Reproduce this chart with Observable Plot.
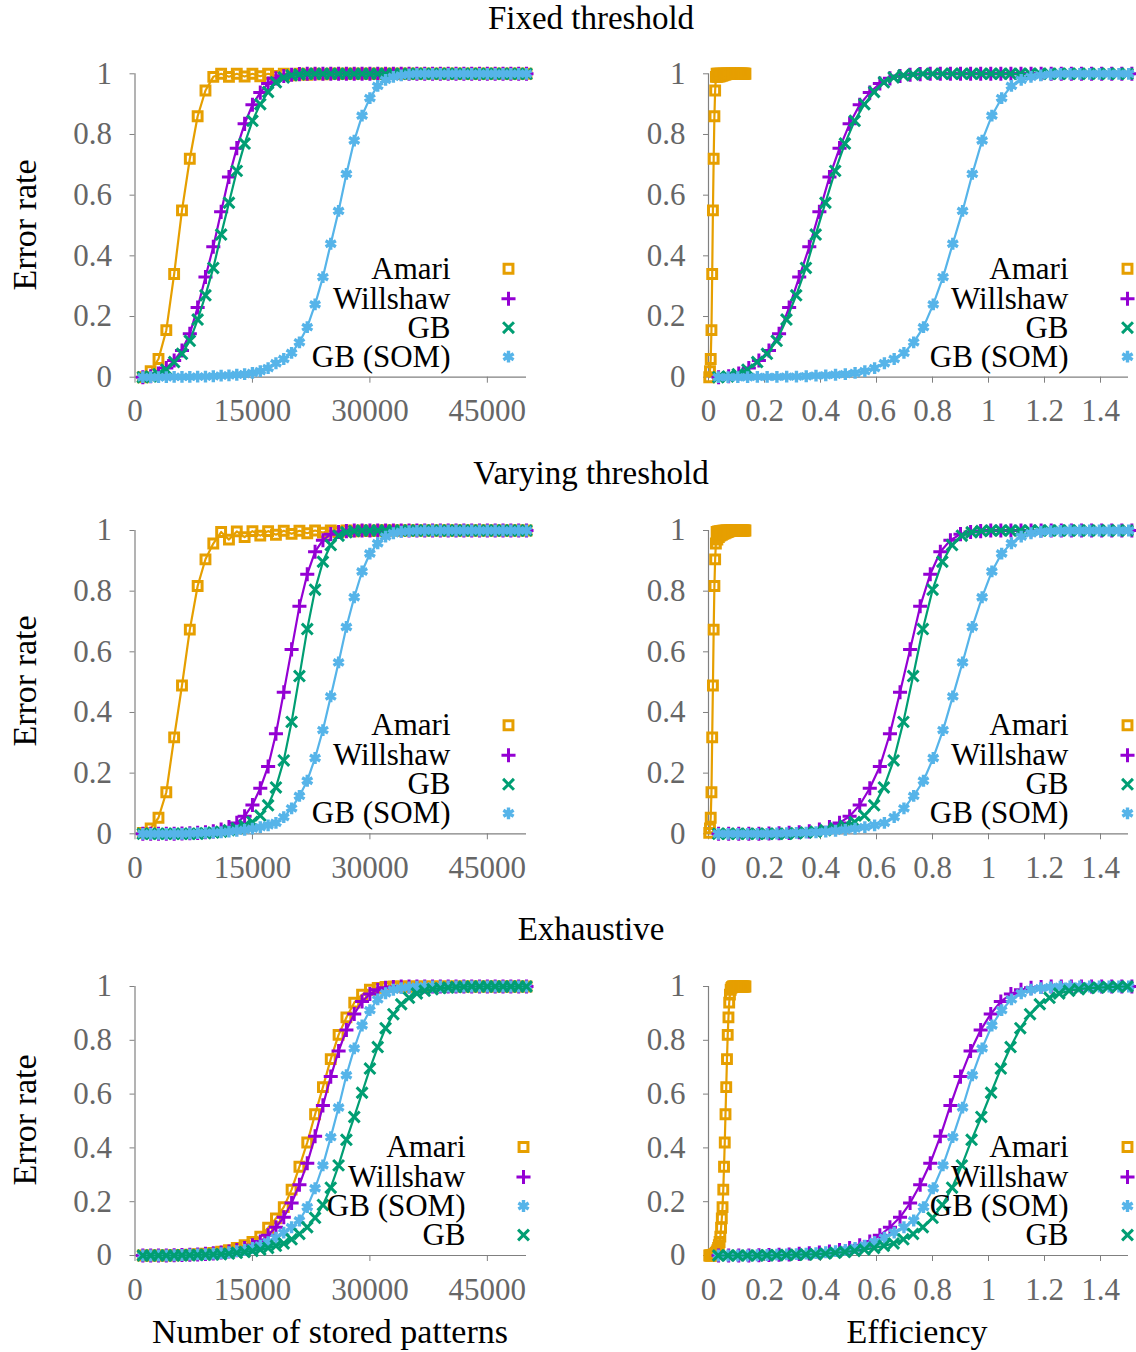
<!DOCTYPE html>
<html>
<head>
<meta charset="utf-8">
<script src="https://cdn.jsdelivr.net/npm/d3@7"></script>
<script src="https://cdn.jsdelivr.net/npm/@observablehq/plot@0.6"></script>
<style>
  html, body { margin: 0; padding: 0; background: #ffffff; }
  #page { position: relative; width: 1136px; height: 1352px; font-family: "Liberation Serif", "DejaVu Serif", serif; color: #000; overflow: hidden; }
  .lbl { position: absolute; white-space: nowrap; line-height: 1; font-size: 34px; }
  .panel { position: absolute; }
</style>
</head>
<body>
<div id="page"></div>
<script>
// ---------------- data ----------------
const nPatterns = [
  1000, 2000, 3000, 4000, 5000, 6000, 7000, 8000, 9000, 10000,
  11000, 12000, 13000, 14000, 15000, 16000, 17000, 18000, 19000, 20000,
  21000, 22000, 23000, 24000, 25000, 26000, 27000, 28000, 29000, 30000,
  31000, 32000, 33000, 34000, 35000, 36000, 37000, 38000, 39000, 40000,
  41000, 42000, 43000, 44000, 45000, 46000, 47000, 48000, 49000, 50000
];

const seriesNames = ["Amari", "Willshaw", "GB", "GB (SOM)"];
const seriesColors = ["#e69f00", "#9400d3", "#009e73", "#56b4e9"];
const seriesSymbols = ["square", "plus", "times", "asterisk"];
// efficiency contributed per stored pattern
const efficiencyPerPattern = [2.64e-6, 3.6e-5, 3.48e-5, 3.49e-5];

const rowTitles = ["Fixed threshold", "Varying threshold", "Exhaustive"];
const xTicksPatterns = [0, 15000, 30000, 45000];
const xTicksEfficiency = [0, 0.2, 0.4, 0.6, 0.8, 1, 1.2, 1.4];
const yTicks = [0, 0.2, 0.4, 0.6, 0.8, 1];
const seriesOrderByRow = [[0, 1, 2, 3], [0, 1, 2, 3], [0, 1, 3, 2]];

// Fixed threshold
const fixedAmari = [
  0.000, 0.020, 0.060, 0.155, 0.340, 0.550, 0.720, 0.860, 0.945, 0.990,
  1.000, 0.990, 1.000, 0.991, 1.000, 0.992, 1.000, 0.993, 1.000, 0.995,
  1.000, 0.997, 1.000, 0.998, 1.000, 1.000, 1.000, 1.000, 1.000, 1.000,
  1.000, 1.000, 1.000, 1.000, 1.000, 1.000, 1.000, 1.000, 1.000, 1.000,
  1.000, 1.000, 1.000, 1.000, 1.000, 1.000, 1.000, 1.000, 1.000, 1.000
];
const fixedWillshaw = [
  0.000, 0.003, 0.012, 0.030, 0.055, 0.088, 0.143, 0.230, 0.330, 0.430,
  0.545, 0.660, 0.755, 0.835, 0.898, 0.938, 0.968, 0.985, 0.993, 0.997,
  0.999, 1.000, 1.000, 1.000, 1.000, 1.000, 1.000, 1.000, 1.000, 1.000,
  1.000, 1.000, 1.000, 1.000, 1.000, 1.000, 1.000, 1.000, 1.000, 1.000,
  1.000, 1.000, 1.000, 1.000, 1.000, 1.000, 1.000, 1.000, 1.000, 1.000
];
const fixedGB = [
  0.000, 0.002, 0.010, 0.025, 0.050, 0.077, 0.120, 0.190, 0.270, 0.360,
  0.470, 0.575, 0.680, 0.770, 0.845, 0.900, 0.940, 0.972, 0.988, 0.995,
  0.998, 1.000, 1.000, 1.000, 1.000, 1.000, 1.000, 1.000, 1.000, 1.000,
  1.000, 1.000, 1.000, 1.000, 1.000, 1.000, 1.000, 1.000, 1.000, 1.000,
  1.000, 1.000, 1.000, 1.000, 1.000, 1.000, 1.000, 1.000, 1.000, 1.000
];
const fixedSOM = [
  0.000, 0.000, 0.000, 0.000, 0.001, 0.001, 0.001, 0.002, 0.002, 0.003,
  0.005, 0.006, 0.008, 0.010, 0.014, 0.020, 0.030, 0.046, 0.060, 0.080,
  0.115, 0.165, 0.240, 0.330, 0.440, 0.548, 0.670, 0.780, 0.862, 0.920,
  0.960, 0.980, 0.990, 0.995, 0.998, 1.000, 1.000, 1.000, 1.000, 1.000,
  1.000, 1.000, 1.000, 1.000, 1.000, 1.000, 1.000, 1.000, 1.000, 1.000
];

// Varying threshold
const varyAmari = [
  0.003, 0.018, 0.053, 0.137, 0.318, 0.489, 0.673, 0.817, 0.905, 0.957,
  0.995, 0.970, 0.997, 0.978, 0.998, 0.983, 0.998, 0.986, 0.999, 0.989,
  0.999, 0.991, 1.000, 0.993, 1.000, 0.995, 1.000, 0.997, 1.000, 0.998,
  1.000, 1.000, 1.000, 1.000, 1.000, 1.000, 1.000, 1.000, 1.000, 1.000,
  1.000, 1.000, 1.000, 1.000, 1.000, 1.000, 1.000, 1.000, 1.000, 1.000
];
const varyWillshaw = [
  0.000, 0.000, 0.000, 0.000, 0.000, 0.001, 0.002, 0.003, 0.005, 0.008,
  0.014, 0.022, 0.036, 0.058, 0.095, 0.150, 0.222, 0.330, 0.467, 0.608,
  0.750, 0.856, 0.930, 0.968, 0.988, 0.995, 0.998, 1.000, 1.000, 1.000,
  1.000, 1.000, 1.000, 1.000, 1.000, 1.000, 1.000, 1.000, 1.000, 1.000,
  1.000, 1.000, 1.000, 1.000, 1.000, 1.000, 1.000, 1.000, 1.000, 1.000
];
const varyGB = [
  0.000, 0.000, 0.000, 0.000, 0.000, 0.000, 0.000, 0.000, 0.002, 0.004,
  0.007, 0.012, 0.018, 0.027, 0.039, 0.060, 0.094, 0.153, 0.242, 0.369,
  0.520, 0.675, 0.805, 0.897, 0.952, 0.983, 0.994, 0.998, 1.000, 1.000,
  1.000, 1.000, 1.000, 1.000, 1.000, 1.000, 1.000, 1.000, 1.000, 1.000,
  1.000, 1.000, 1.000, 1.000, 1.000, 1.000, 1.000, 1.000, 1.000, 1.000
];
const varySOM = [
  0.000, 0.000, 0.000, 0.000, 0.000, 0.000, 0.001, 0.002, 0.003, 0.004,
  0.005, 0.007, 0.010, 0.013, 0.017, 0.022, 0.028, 0.036, 0.055, 0.084,
  0.125, 0.175, 0.250, 0.342, 0.453, 0.565, 0.682, 0.780, 0.865, 0.924,
  0.958, 0.980, 0.991, 0.996, 0.998, 0.999, 1.000, 1.000, 1.000, 1.000,
  1.000, 1.000, 1.000, 1.000, 1.000, 1.000, 1.000, 1.000, 1.000, 1.000
];

// Exhaustive
const exhAmari = [
  0.000, 0.000, 0.000, 0.000, 0.001, 0.002, 0.003, 0.005, 0.007, 0.010,
  0.014, 0.020, 0.028, 0.038, 0.050, 0.070, 0.103, 0.138, 0.180, 0.245,
  0.330, 0.420, 0.525, 0.626, 0.730, 0.820, 0.885, 0.940, 0.970, 0.988,
  0.995, 0.998, 1.000, 1.000, 1.000, 1.000, 1.000, 1.000, 1.000, 1.000,
  1.000, 1.000, 1.000, 1.000, 1.000, 1.000, 1.000, 1.000, 1.000, 1.000
];
const exhWillshaw = [
  0.000, 0.000, 0.000, 0.000, 0.001, 0.002, 0.003, 0.004, 0.006, 0.008,
  0.011, 0.015, 0.020, 0.028, 0.038, 0.052, 0.075, 0.105, 0.142, 0.195,
  0.263, 0.343, 0.443, 0.558, 0.665, 0.760, 0.838, 0.898, 0.944, 0.972,
  0.988, 0.995, 0.998, 1.000, 1.000, 1.000, 1.000, 1.000, 1.000, 1.000,
  1.000, 1.000, 1.000, 1.000, 1.000, 1.000, 1.000, 1.000, 1.000, 1.000
];
const exhGB = [
  0.000, 0.000, 0.000, 0.000, 0.000, 0.001, 0.001, 0.002, 0.003, 0.004,
  0.005, 0.007, 0.010, 0.013, 0.017, 0.022, 0.028, 0.036, 0.045, 0.060,
  0.080, 0.105, 0.140, 0.188, 0.252, 0.335, 0.430, 0.515, 0.605, 0.695,
  0.775, 0.845, 0.897, 0.934, 0.958, 0.974, 0.984, 0.990, 0.994, 0.996,
  0.998, 0.999, 1.000, 1.000, 1.000, 1.000, 1.000, 1.000, 1.000, 1.000
];
const exhSOM = [
  0.000, 0.000, 0.000, 0.000, 0.001, 0.002, 0.003, 0.004, 0.005, 0.007,
  0.009, 0.012, 0.016, 0.021, 0.028, 0.037, 0.050, 0.066, 0.085, 0.105,
  0.130, 0.180, 0.250, 0.335, 0.440, 0.550, 0.670, 0.770, 0.855, 0.912,
  0.952, 0.975, 0.988, 0.994, 0.997, 0.999, 1.000, 1.000, 1.000, 1.000,
  1.000, 1.000, 1.000, 1.000, 1.000, 1.000, 1.000, 1.000, 1.000, 1.000
];

const errorRows = [
  [fixedAmari, fixedWillshaw, fixedGB, fixedSOM],
  [varyAmari, varyWillshaw, varyGB, varySOM],
  [exhAmari, exhWillshaw, exhGB, exhSOM]
];

// ---------------- layout / style ----------------
const page = document.getElementById("page");
const rowTop = [40, 497, 953];
const rowHeight = [380, 380, 345];
const rowMarginTop = [33.3, 33, 33];
const rowMarginBottom = [43.3, 43.7, 43];
const titleCenterY = [17.5, 473, 929];
const ylabelCenterY = [225, 681, 1120];

const markStyle = [
  {r: 5.0, strokeWidth: 3.0},
  {r: 4.6, strokeWidth: 3.0},
  {r: 5.0, strokeWidth: 3.0},
  {r: 5.6, strokeWidth: 3.4}
];
const legendDy = [-108.5, -78.5, -49.5, -20.5];

function fmtNum(d) { return String(Math.round(d * 10) / 10); }

function addLabel(text, cx, cy, rotate, size) {
  const el = document.createElement("div");
  el.className = "lbl";
  el.textContent = text;
  el.style.left = cx + "px";
  el.style.top = cy + "px";
  if (size) el.style.fontSize = size + "px";
  el.style.transform = "translate(-50%, -50%)" + (rotate ? " rotate(-90deg)" : "");
  page.appendChild(el);
}

function makePanel(row, useEfficiency) {
  const order = seriesOrderByRow[row];
  const marks = [];
  marks.push(Plot.ruleY([0], {stroke: "#808080", strokeWidth: 1.2}));
  marks.push(Plot.ruleX([0], {stroke: "#808080", strokeWidth: 1.2}));
  marks.push(Plot.axisY({
    ticks: yTicks, tickFormat: fmtNum, tickSize: 5, tickPadding: 18,
    fontSize: 31, label: null, stroke: "#808080", fill: "#666"
  }));
  marks.push(Plot.axisX({
    ticks: useEfficiency ? xTicksEfficiency : xTicksPatterns,
    tickFormat: useEfficiency ? fmtNum : d3.format("d"),
    tickSize: 6, tickPadding: 16, fontSize: 31, label: null, stroke: "#808080", fill: "#666"
  }));

  order.forEach((s) => {
    const pts = nPatterns.map((n, i) => ({
      x: useEfficiency ? n * efficiencyPerPattern[s] : n,
      y: errorRows[row][s][i]
    })).filter(d => !useEfficiency || d.x <= 1.52);
    marks.push(Plot.line(pts, {x: "x", y: "y", stroke: seriesColors[s], strokeWidth: 2.2}));
    marks.push(Plot.dot(pts, {
      x: "x", y: "y", symbol: seriesSymbols[s], stroke: seriesColors[s], fill: "none",
      r: markStyle[s].r, strokeWidth: markStyle[s].strokeWidth
    }));
  });

  // legend inside the frame, bottom-right
  const textDx = useEfficiency ? -60 : (row === 2 ? -61 : -76);
  const symDx = useEfficiency ? -1 : (row === 2 ? -3 : -18);
  order.forEach((s, k) => {
    marks.push(Plot.text([seriesNames[s]], {
      frameAnchor: "bottom-right", text: d => d, dx: textDx, dy: legendDy[k],
      textAnchor: "end", lineAnchor: "middle", fontSize: 31, fill: "#000"
    }));
    marks.push(Plot.dot([0], {
      frameAnchor: "bottom-right", dx: symDx, dy: legendDy[k],
      symbol: seriesSymbols[s], stroke: seriesColors[s], fill: "none",
      r: markStyle[s].r, strokeWidth: markStyle[s].strokeWidth
    }));
  });

  const svg = Plot.plot({
    width: 568,
    height: rowHeight[row],
    marginLeft: useEfficiency ? 140 : 134.5,
    marginRight: useEfficiency ? 8 : 42,
    marginTop: rowMarginTop[row],
    marginBottom: rowMarginBottom[row],
    x: {domain: useEfficiency ? [0, 1.5] : [0, 50000]},
    y: {domain: [0, 1]},
    style: {fontFamily: '"Liberation Serif", "DejaVu Serif", serif', fontSize: "31px", color: "#666", background: "transparent", overflow: "visible"},
    marks
  });
  const wrap = document.createElement("div");
  wrap.className = "panel";
  wrap.style.left = (useEfficiency ? 568 : 0) + "px";
  wrap.style.top = rowTop[row] + "px";
  wrap.appendChild(svg);
  page.appendChild(wrap);
}

for (let row = 0; row < 3; row++) {
  makePanel(row, false);
  makePanel(row, true);
  addLabel(rowTitles[row], 591, titleCenterY[row], false, 33);
  addLabel("Error rate", 25, ylabelCenterY[row], true, 34);
}
addLabel("Number of stored patterns", 330, 1332, false, 34);
addLabel("Efficiency", 917, 1332, false, 34);
</script>
</body>
</html>
